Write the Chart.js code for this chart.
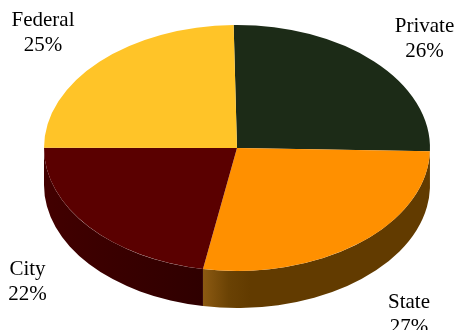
<!DOCTYPE html>
<html>
<head>
<meta charset="utf-8">
<style>html,body{margin:0;padding:0;background:#fff;overflow:hidden}canvas{display:block}</style>
<script src="https://cdn.jsdelivr.net/npm/chart.js@4"></script>
</head>
<body>
<canvas id="c" width="456" height="330"></canvas>
<script>
const categories = ["Private", "State", "City", "Federal"];
const wedgeShares = [25.7, 27.4, 22.2, 24.7];
const printedPercents = ["26%", "27%", "22%", "25%"];

const faceColors = ["#1c2b17", "#ff9000", "#5a0000", "#ffc428"];
const labelAnchors = [[424.5, 32], [409, 308], [27.5, 275], [43, 26]];
const squash = 123 / 193;
const depth = 37;
const fontCss = '21px "Liberation Serif", serif';
const lineGap = 25;

function wallFill(ctx, i) {
  if (i === 1) {
    const g = ctx.createLinearGradient(203, 0, 250, 0);
    g.addColorStop(0, "#8c5a12");
    g.addColorStop(0.55, "#6a4204");
    g.addColorStop(1, "#623b00");
    return g;
  }
  if (i === 2) {
    const g = ctx.createLinearGradient(44, 0, 203, 0);
    g.addColorStop(0, "#420000");
    g.addColorStop(1, "#2f0000");
    return g;
  }
  return "#623b00";
}

const tiltPlugin = {
  id: "tilt",
  beforeDatasetsDraw(chart) {
    const ctx = chart.ctx;
    const arcs = chart.getDatasetMeta(0).data;
    const cx = arcs[0].x, cy = arcs[0].y;
    const r = arcs[0].outerRadius, ry = r * squash;
    arcs.forEach((a, i) => {
      let s = a.startAngle, e = a.endAngle;
      if (s < 0 && e <= 0) return;
      s = Math.max(s, 0);
      e = Math.min(e, Math.PI);
      if (e <= s) return;
      ctx.beginPath();
      ctx.ellipse(cx, cy, r, ry, 0, s, e);
      ctx.ellipse(cx, cy + depth, r, ry, 0, e, s, true);
      ctx.closePath();
      ctx.fillStyle = wallFill(ctx, i);
      ctx.fill();
    });
    ctx.save();
    ctx.translate(cx, cy);
    ctx.scale(1, squash);
    ctx.translate(-cx, -cy);
  },
  afterDatasetsDraw(chart) {
    chart.ctx.restore();
  },
  afterDraw(chart) {
    const ctx = chart.ctx;
    ctx.save();
    ctx.font = fontCss;
    ctx.fillStyle = "#000";
    ctx.textAlign = "center";
    ctx.textBaseline = "alphabetic";
    categories.forEach((name, i) => {
      const [x, y] = labelAnchors[i];
      ctx.fillText(name, x, y);
      ctx.fillText(printedPercents[i], x, y + lineGap);
    });
    ctx.restore();
  }
};

new Chart(document.getElementById("c"), {
  type: "pie",
  data: {
    labels: categories,
    datasets: [{
      data: wedgeShares,
      backgroundColor: faceColors,
      borderWidth: 0,
      radius: 193,
      rotation: -1,
      clip: false
    }]
  },
  options: {
    responsive: false,
    animation: false,
    layout: { padding: { left: 18, bottom: 34 } },
    plugins: { legend: { display: false }, tooltip: { enabled: false }, title: { display: false } }
  },
  plugins: [tiltPlugin]
});
</script>
</body>
</html>
